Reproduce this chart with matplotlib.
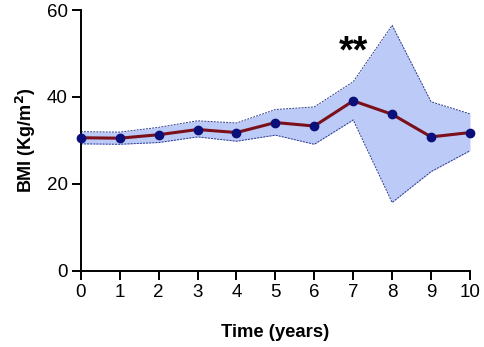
import matplotlib
matplotlib.use("Agg")
import matplotlib.pyplot as plt

plt.rcParams.update({"font.family": ["Liberation Sans", "DejaVu Sans"]})

years = [0, 1, 2, 3, 4, 5, 6, 7, 8, 9, 10]
bmi_mean = [30.6, 30.5, 31.3, 32.5, 31.8, 34.1, 33.3, 39.1, 36.0, 30.8, 31.8]
bmi_upper = [32.0, 31.9, 33.0, 34.5, 34.0, 37.1, 37.7, 43.5, 56.5, 38.9, 36.1]
bmi_lower = [29.2, 29.1, 29.5, 30.8, 29.8, 31.2, 29.1, 34.7, 15.7, 22.8, 27.6]

LINE = "#7b0f1a"
DOT = "#0b0f7a"
FILL = "#bccaf7"
EDGE = "#2a3a8a"

fig = plt.figure(figsize=(4.84, 3.47), dpi=100)
ax = fig.add_axes([0.167, 0.22, 0.804, 0.751])

ax.fill_between(years, bmi_lower, bmi_upper, color=FILL, lw=0, zorder=1)
ax.plot(years, bmi_upper, color=EDGE, lw=0.7, ls=(0, (2, 1.2)), zorder=2)
ax.plot(years, bmi_lower, color=EDGE, lw=0.7, ls=(0, (2, 1.2)), zorder=2)
ax.plot(years, bmi_mean, color=LINE, lw=2.2, zorder=3)
ax.plot(years, bmi_mean, ls="none", marker="o", ms=6, color=DOT, zorder=4,
        clip_on=False)

ax.text(7, 50.3, "**", ha="center", va="center", fontsize=27, fontweight="bold")

ax.set_xlim(0, 10)
ax.set_ylim(0, 60)
ax.set_xticks(years)
ax.set_yticks([0, 20, 40, 60])
ax.spines[["top", "right"]].set_visible(False)
for s in ("left", "bottom"):
    ax.spines[s].set_linewidth(1.4)
ax.tick_params(direction="out", length=6.5, width=1.4, labelsize=13.5, pad=3)
ax.set_xlabel("Time (years)", fontsize=13.3, fontweight="bold", labelpad=17)
ax.set_ylabel("BMI (Kg/m$^\\mathbf{2}$)", fontsize=13, fontweight="bold", labelpad=6)

fig.savefig("out.png", dpi=100)
